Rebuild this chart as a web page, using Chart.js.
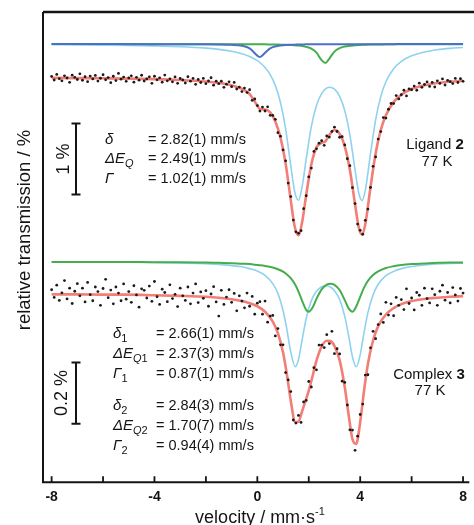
<!DOCTYPE html>
<html>
<head>
<meta charset="utf-8">
<script src="https://cdn.jsdelivr.net/npm/chart.js@4.4.1/dist/chart.umd.min.js"></script>
<style>
  html, body { margin: 0; padding: 0; background: #fff; }
</style>
</head>
<body>
<canvas id="moss" width="474" height="525"></canvas>
<script>
// ----- measured channels (relative transmission, %), one every 0.1 mm/s from -8 -----
const dataStart = -8;
const dataStep = 0.1;

const ligandData = [
  0.010, -0.040, 0.039, -0.021, -0.051, 0.019, -0.012, -0.072, 0.028, -0.002,
  -0.033, 0.047, -0.043, 0.006, -0.064, 0.016, -0.024, 0.025, -0.055, -0.015,
  0.034, -0.036, -0.006, -0.077, 0.013, -0.048, 0.052, -0.028, 0.001, -0.059,
  -0.010, 0.019, -0.071, -0.002, -0.042, 0.027, -0.054, -0.025, 0.005, -0.086,
  0.013, -0.038, -0.009, -0.070, 0.029, -0.052, -0.023, -0.065, 0.004, -0.087,
  -0.019, -0.040, -0.082, 0.006, -0.056, -0.018, -0.100, -0.033, -0.075, -0.018,
  -0.091, -0.054, -0.008, -0.112, -0.056, -0.091, -0.056, -0.142, -0.099, -0.066,
  -0.134, -0.074, -0.166, -0.139, -0.203, -0.153, -0.217, -0.177, -0.325, -0.307,
  -0.399, -0.477, -0.420, -0.475, -0.417, -0.536, -0.538, -0.592, -0.780, -0.829,
  -1.022, -1.175, -1.488, -1.678, -2.007, -2.173, -2.191, -2.157, -1.847, -1.666,
  -1.402, -1.277, -1.043, -1.006, -0.927, -0.893, -0.957, -0.825, -0.842, -0.762,
  -0.702, -0.763, -0.844, -0.836, -0.952, -1.146, -1.244, -1.552, -1.776, -2.064,
  -2.151, -2.207, -2.011, -1.853, -1.550, -1.253, -1.121, -0.869, -0.764, -0.568,
  -0.575, -0.451, -0.370, -0.371, -0.259, -0.305, -0.247, -0.184, -0.264, -0.165,
  -0.177, -0.125, -0.184, -0.084, -0.143, -0.103, -0.067, -0.130, -0.074, -0.138,
  -0.052, -0.088, -0.024, -0.110, -0.046, -0.063, -0.090, -0.017, -0.075, -0.022,
  -0.059
];

const complexData = [
  0.013, -0.012, 0.028, -0.022, 0.003, 0.043, -0.017, 0.018, -0.032, 0.008,
  0.033, -0.007, 0.018, -0.027, 0.037, -0.003, -0.023, 0.022, 0.007, -0.038,
  0.017, 0.047, -0.013, 0.012, -0.033, 0.022, 0.002, -0.023, 0.032, -0.018,
  0.007, -0.028, 0.026, -0.004, -0.044, 0.016, 0.011, -0.014, 0.025, -0.025,
  0.040, -0.010, -0.035, 0.015, 0.004, -0.026, 0.029, -0.016, -0.002, -0.042,
  0.018, -0.007, -0.022, 0.022, -0.033, 0.002, 0.032, -0.029, 0.006, -0.015,
  0.010, -0.041, -0.001, 0.023, -0.027, -0.073, 0.011, -0.035, -0.011, 0.013,
  -0.028, 0.001, -0.056, -0.007, -0.024, -0.046, 0.002, -0.041, -0.009, -0.067,
  -0.031, -0.026, -0.067, -0.024, -0.093, -0.073, -0.071, -0.138, -0.114, -0.167,
  -0.167, -0.258, -0.282, -0.320, -0.413, -0.423, -0.398, -0.421, -0.354, -0.349,
  -0.287, -0.305, -0.242, -0.249, -0.168, -0.168, -0.176, -0.134, -0.163, -0.123,
  -0.196, -0.180, -0.197, -0.286, -0.290, -0.364, -0.445, -0.446, -0.512, -0.466,
  -0.395, -0.361, -0.266, -0.265, -0.177, -0.123, -0.147, -0.101, -0.066, -0.094,
  -0.028, -0.070, -0.033, -0.072, -0.012, -0.038, -0.019, -0.052, 0.016, -0.032,
  -0.014, -0.053, 0.004, -0.005, -0.038, 0.018, -0.016, -0.030, 0.016, -0.003,
  -0.038, 0.008, 0.028, -0.021, 0.004, -0.030, 0.020, -0.004, -0.024, 0.017,
  0.002
];

// ----- fitted curves, ligand 2 (top) -----
const ligandVelocity = [-8, -7, -6, -5, -4, -3, -2, -1.5, -1, -0.6, -0.3, 0, 0.1, 0.3, 0.5, 0.7, 0.9,
  1.1, 1.3, 1.45, 1.6, 1.75, 1.9, 2.1, 2.3, 2.5, 2.65, 2.8, 3.0, 3.2, 3.4, 3.6, 3.8, 3.95,
  4.07, 4.2, 4.4, 4.6, 4.8, 5.0, 5.3, 5.6, 6, 6.5, 7, 7.5, 8];
const ligandFit = [-0.010, -0.013, -0.016, -0.020, -0.027, -0.039, -0.061, -0.081, -0.114, -0.163, -0.237,
  -0.399, -0.447, -0.455, -0.496, -0.622, -0.849, -1.215, -1.728, -2.094, -2.221, -2.020, -1.656,
  -1.227, -0.986, -0.923, -0.900, -0.812, -0.742, -0.794, -0.972, -1.304, -1.786, -2.117, -2.209,
  -2.061, -1.550, -1.071, -0.744, -0.535, -0.351, -0.247, -0.167, -0.113, -0.082, -0.063, -0.049];
const ligandMain = [-0.010, -0.012, -0.015, -0.019, -0.026, -0.037, -0.057, -0.074, -0.101, -0.135, -0.174,
  -0.233, -0.260, -0.329, -0.430, -0.583, -0.821, -1.192, -1.706, -2.070, -2.194, -1.987, -1.613,
  -1.159, -0.862, -0.695, -0.631, -0.607, -0.634, -0.734, -0.935, -1.279, -1.768, -2.103, -2.197,
  -2.051, -1.542, -1.064, -0.738, -0.530, -0.347, -0.243, -0.165, -0.111, -0.080, -0.061, -0.048];
const ligandSiteA = [0, 0, 0, -0.001, -0.001, -0.002, -0.003, -0.005, -0.011, -0.025, -0.060,
  -0.162, -0.183, -0.121, -0.060, -0.033, -0.020, -0.013, -0.009, -0.008, -0.006, -0.005, -0.004,
  -0.004, -0.003, -0.002, -0.002, -0.002, -0.002, -0.002, -0.001, -0.001, -0.001, -0.001, -0.001,
  -0.001, -0.001, -0.001, -0.001, -0.001, -0.001, 0, 0, 0, 0, 0, 0];
const ligandSiteB = [0, 0, 0, 0, -0.001, -0.001, -0.001, -0.001, -0.002, -0.002, -0.003,
  -0.003, -0.004, -0.004, -0.005, -0.006, -0.008, -0.010, -0.013, -0.016, -0.021, -0.028, -0.039,
  -0.065, -0.121, -0.226, -0.267, -0.203, -0.106, -0.058, -0.035, -0.023, -0.017, -0.013, -0.011,
  -0.009, -0.007, -0.006, -0.005, -0.004, -0.003, -0.003, -0.002, -0.002, -0.001, -0.001, -0.001];

// ----- fitted curves, complex 3 (bottom) -----
const complexVelocity = [-8, -7, -6, -5, -4, -3, -2, -1.5, -1, -0.6, -0.3, 0, 0.3, 0.6, 0.8, 1.0, 1.15,
  1.3, 1.475, 1.6, 1.75, 1.9, 2.0, 2.15, 2.3, 2.5, 2.7, 2.85, 3.0, 3.2, 3.4, 3.55, 3.7, 3.845,
  4.0, 4.15, 4.3, 4.5, 4.7, 5.0, 5.3, 5.6, 6, 6.5, 7, 7.5, 8];
const complexFit = [-0.002, -0.002, -0.003, -0.003, -0.005, -0.007, -0.010, -0.013, -0.018, -0.024, -0.031,
  -0.041, -0.059, -0.091, -0.129, -0.192, -0.264, -0.350, -0.420, -0.418, -0.382, -0.344, -0.317,
  -0.269, -0.219, -0.173, -0.154, -0.155, -0.171, -0.217, -0.305, -0.396, -0.476, -0.491, -0.420,
  -0.317, -0.230, -0.153, -0.106, -0.068, -0.047, -0.034, -0.024, -0.017, -0.013, -0.010, -0.008];
const complexSite1 = [-0.001, -0.001, -0.002, -0.002, -0.003, -0.004, -0.007, -0.009, -0.013, -0.017, -0.023,
  -0.031, -0.045, -0.072, -0.104, -0.160, -0.222, -0.296, -0.344, -0.320, -0.252, -0.186, -0.153,
  -0.118, -0.097, -0.082, -0.079, -0.084, -0.095, -0.124, -0.179, -0.242, -0.312, -0.344, -0.305,
  -0.232, -0.167, -0.109, -0.074, -0.046, -0.032, -0.023, -0.016, -0.011, -0.008, -0.006, -0.005];
const complexSite2 = [-0.001, -0.001, -0.001, -0.001, -0.002, -0.002, -0.003, -0.004, -0.005, -0.007, -0.008,
  -0.011, -0.014, -0.019, -0.025, -0.033, -0.042, -0.054, -0.076, -0.098, -0.130, -0.158, -0.164,
  -0.150, -0.122, -0.091, -0.075, -0.072, -0.076, -0.093, -0.126, -0.153, -0.164, -0.147, -0.115,
  -0.085, -0.063, -0.044, -0.032, -0.021, -0.015, -0.011, -0.008, -0.006, -0.004, -0.003, -0.003];

// ----- axis ticks and fit parameters -----
const tickValues = [-8, -6, -4, -2, 0, 2, 4, 6, 8];

const ligandSymbols = ['δ', 'ΔE', 'Γ'];
const ligandSubs = ['', 'Q', ''];
const ligandValues = ['2.82(1)', '2.49(1)', '1.02(1)'];

const complexSymbols = ['δ', 'ΔE', 'Γ', 'δ', 'ΔE', 'Γ'];
const complexSubs = ['1', 'Q1', '1', '2', 'Q2', '2'];
const complexValues = ['2.66(1)', '2.37(3)', '0.87(1)', '2.84(3)', '1.70(7)', '0.94(4)'];

// ----- drawing -----
const FONT = '"Liberation Sans", Arial, sans-serif';
const INK = '#141414';

// components are drawn shifted above the data
const ligandShift = 0.465;
const complexShift = 0.105;

function curve(xs, ys, shift) {
  return xs.map((x, i) => ({ x: x, y: ys[i] + shift }));
}
function channels(ys) {
  return ys.map((y, i) => ({ x: dataStart + i * dataStep, y: y }));
}

function lineSet(data, axis, color, width, order) {
  return {
    data: data, yAxisID: axis, showLine: true, borderColor: color, borderWidth: width,
    pointRadius: 0, cubicInterpolationMode: 'monotone', order: order
  };
}
function dotSet(data, axis) {
  return {
    data: data, yAxisID: axis, showLine: false, pointRadius: 1.4, pointBorderWidth: 0,
    pointBackgroundColor: '#1b1b1b', order: 0
  };
}

function runs(ctx, parts, x, y, align) {
  let w = 0;
  parts.forEach(p => { ctx.font = p[1]; w += ctx.measureText(p[0]).width; });
  let cx = align === 'center' ? x - w / 2 : x;
  parts.forEach(p => {
    ctx.font = p[1];
    ctx.fillText(p[0], cx, y + (p[2] || 0));
    cx += ctx.measureText(p[0]).width;
  });
}

function paramRows(ctx, syms, subs, vals, symX, eqX, baselines) {
  const symFont = 'italic 15px ' + FONT;
  const subItal = 'italic 11px ' + FONT;
  const subFont = '11px ' + FONT;
  syms.forEach((s, i) => {
    const parts = [[s, symFont]];
    const sub = subs[i];
    for (const ch of sub) {
      parts.push([ch, /[A-Z]/.test(ch) ? subItal : subFont, 4]);
    }
    runs(ctx, parts, symX, baselines[i], 'left');
    ctx.font = '14.5px ' + FONT;
    ctx.fillText('= ' + vals[i] + ' mm/s', eqX, baselines[i]);
  });
}

function scaleBar(ctx, x, y0, y1, label, labelX) {
  ctx.lineWidth = 2;
  ctx.beginPath();
  ctx.moveTo(x, y0); ctx.lineTo(x, y1);
  ctx.moveTo(x - 4.5, y0); ctx.lineTo(x + 4.5, y0);
  ctx.moveTo(x - 4.5, y1); ctx.lineTo(x + 4.5, y1);
  ctx.stroke();
  ctx.save();
  ctx.translate(labelX, (y0 + y1) / 2);
  ctx.rotate(-Math.PI / 2);
  ctx.textAlign = 'center';
  ctx.font = '18px ' + FONT;
  ctx.fillText(label, 0, 0);
  ctx.restore();
}

const decorations = {
  id: 'decorations',
  afterDraw(chart) {
    const ctx = chart.ctx;
    const a = chart.chartArea;
    const xs = chart.scales.x;
    const yt = chart.scales.yTop;
    const yb = chart.scales.yBottom;
    ctx.save();
    ctx.strokeStyle = INK;
    ctx.fillStyle = INK;
    ctx.textAlign = 'left';
    ctx.textBaseline = 'alphabetic';

    // frame: top, left, bottom axis
    ctx.lineWidth = 2.5;
    ctx.beginPath();
    ctx.moveTo(a.left, a.top); ctx.lineTo(chart.width, a.top);
    ctx.stroke();
    ctx.lineWidth = 2;
    ctx.beginPath();
    ctx.moveTo(a.left, a.top); ctx.lineTo(a.left, a.bottom + 1);
    ctx.moveTo(a.left - 1, a.bottom); ctx.lineTo(a.right, a.bottom);
    ctx.stroke();
    // inward ticks
    ctx.lineWidth = 1.8;
    ctx.beginPath();
    tickValues.forEach(v => {
      const px = xs.getPixelForValue(v);
      ctx.moveTo(px, a.bottom - 6); ctx.lineTo(px, a.bottom);
    });
    ctx.stroke();

    // axis titles
    runs(ctx, [['velocity / mm·s', '18px ' + FONT], ['-1', '11px ' + FONT, -8]], 260, 523, 'center');
    ctx.save();
    ctx.translate(30, 230);
    ctx.rotate(-Math.PI / 2);
    ctx.textAlign = 'center';
    ctx.font = '18.5px ' + FONT;
    ctx.fillText('relative transmission / %', 0, 0);
    ctx.restore();

    // scale bars
    scaleBar(ctx, 76, yt.getPixelForValue(-0.65), yt.getPixelForValue(-1.65), '1 %', 69);
    scaleBar(ctx, 76, yb.getPixelForValue(-0.225), yb.getPixelForValue(-0.425), '0.2 %', 67);

    // fit parameters
    paramRows(ctx, ligandSymbols, ligandSubs, ligandValues, 105, 148, [143.5, 163, 183]);
    paramRows(ctx, complexSymbols, complexSubs, complexValues, 113, 156, [338, 358, 378, 410, 430, 450]);

    // sample labels
    runs(ctx, [['Ligand ', '15px ' + FONT], ['2', 'bold 15px ' + FONT]], 435, 149, 'center');
    runs(ctx, [['77 K', '15px ' + FONT]], 437, 166, 'center');
    runs(ctx, [['Complex ', '15px ' + FONT], ['3', 'bold 15px ' + FONT]], 429, 379, 'center');
    runs(ctx, [['77 K', '15px ' + FONT]], 430, 395, 'center');
    ctx.restore();
  }
};

new Chart(document.getElementById('moss'), {
  type: 'scatter',
  data: {
    datasets: [
      dotSet(channels(ligandData), 'yTop'),
      dotSet(channels(complexData), 'yBottom'),
      lineSet(curve(ligandVelocity, ligandFit, 0), 'yTop', '#f27e76', 2.6, 1),
      lineSet(curve(complexVelocity, complexFit, 0), 'yBottom', '#f27e76', 2.6, 1),
      lineSet(curve(ligandVelocity, ligandSiteA, ligandShift), 'yTop', '#4b70c8', 2, 2),
      lineSet(curve(ligandVelocity, ligandSiteB, ligandShift), 'yTop', '#46ad4c', 2, 3),
      lineSet(curve(ligandVelocity, ligandMain, ligandShift), 'yTop', '#8fd2ef', 1.6, 4),
      lineSet(curve(complexVelocity, complexSite2, complexShift), 'yBottom', '#46ad4c', 2, 2),
      lineSet(curve(complexVelocity, complexSite1, complexShift), 'yBottom', '#8fd2ef', 1.6, 3)
    ]
  },
  options: {
    responsive: false,
    animation: false,
    devicePixelRatio: 1,
    layout: { padding: { left: 43, right: 1, top: 12, bottom: 12 } },
    plugins: { legend: { display: false }, tooltip: { enabled: false } },
    scales: {
      x: {
        type: 'linear',
        min: -8.335,
        max: 8.243,
        afterBuildTicks: axis => { axis.ticks = tickValues.map(v => ({ value: v })); },
        ticks: {
          callback: v => (v % 4 === 0 ? String(v) : ''),
          autoSkip: false,
          maxRotation: 0,
          padding: 7,
          color: INK,
          font: { family: FONT, size: 14, weight: 'bold' }
        },
        grid: { display: false, drawTicks: false },
        border: { display: false }
      },
      yTop: { type: 'linear', display: false, min: -5.690, max: 0.9155 },
      yBottom: { type: 'linear', display: false, min: -0.6164, max: 0.9213 }
    }
  },
  plugins: [decorations]
});
</script>
</body>
</html>
